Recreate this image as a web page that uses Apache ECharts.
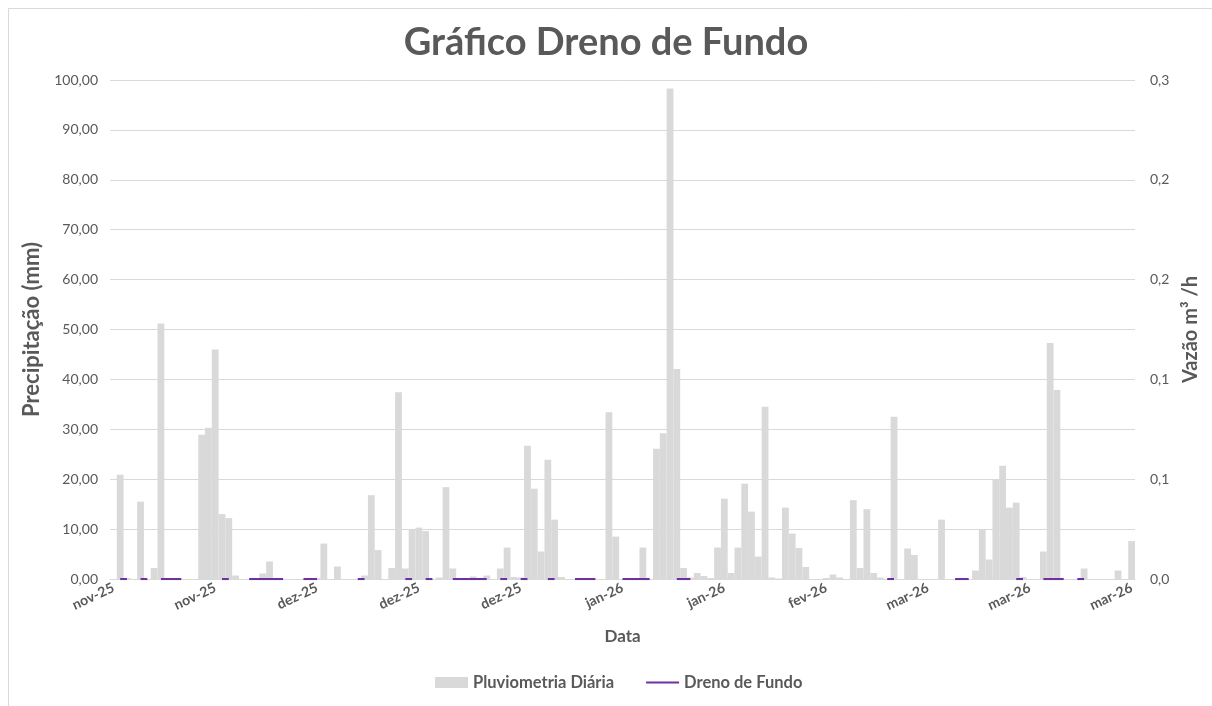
<!DOCTYPE html>
<html>
<head>
<meta charset="utf-8">
<script src="https://cdn.jsdelivr.net/npm/echarts@6/dist/echarts.min.js"></script>
<style>
  html, body { margin: 0; padding: 0; background: #ffffff; }
  #chart { width: 1212px; height: 706px; }
</style>
</head>
<body>
<div id="chart"></div>
<script>
// Daily dates: 1 Nov 2025 .. 31 Mar 2026 (151 days)
const startDate = '2025-11-01';
const dayCount = 151;

// Tick labels shown every 15 days
const tickLabels = ['nov-25','nov-25','dez-25','dez-25','dez-25','jan-26','jan-26','fev-26','mar-26','mar-26','mar-26'];

// Pluviometria Diária (mm)
const rain = [0,
  20.9, 0.2, 0, 15.5, 0, 2.2, 51.2, 0.2, 0, 0, 0, 0,
  28.9, 30.3, 46.0, 13.0, 12.2, 0.7, 0, 0, 0, 1.1, 3.5,
  0, 0, 0, 0, 0, 0,
  0.2, 7.1, 0, 2.5, 0, 0, 0,
  0.7, 16.8, 5.8, 0, 2.2, 37.4, 2.1, 10.0, 10.3, 9.6, 0, 0.3, 18.4, 2.1,
  0, 0, 0.5, 0, 0.7, 0, 2.1, 6.3, 0.4, 0.3, 26.7, 18.1, 5.5, 23.9, 11.9, 0.4,
  0, 0, 0, 0, 0, 0,
  33.4, 8.5, 0, 0, 0.2, 6.3, 0, 26.1, 29.2, 98.3, 42.1, 2.2, 0.3, 1.2, 0.6, 0.2,
  6.3, 16.1, 1.2, 6.3, 19.1, 13.5, 4.5, 34.5, 0.3, 0.1, 14.3, 9.1, 6.2, 2.4,
  0, 0, 0.2, 0.9, 0.3, 0, 15.8, 2.2, 14.0, 1.2, 0.3, 0, 32.5, 0, 6.1, 4.8,
  0, 0, 0, 11.9, 0, 0, 0, 0,
  1.7, 9.9, 3.9, 19.9, 22.7, 14.3, 15.3, 0.4, 0, 0, 5.5, 47.3, 37.9,
  0, 0, 0, 2.1, 0, 0, 0, 0, 1.7, 0, 7.6
];

// Dreno de Fundo (m³/h) — null = no reading
const _ = null;
const dreno = [
  _,0,0,_,0,0,_,0,0,0,
  0,_,_,_,_,_,0,0,_,_,
  0,0,0,0,0,0,_,_,0,0,
  0,_,_,_,_,_,0,0,_,_,
  _,_,_,0,0,_,0,0,_,_,
  0,0,0,0,0,0,_,0,0,_,
  0,0,_,_,0,0,_,_,0,0,
  0,0,_,_,_,0,0,0,0,0,
  _,_,_,0,0,0,_,_,_,_,
  _,_,_,_,_,_,_,_,_,_,
  _,_,_,_,_,_,_,_,_,_,
  _,_,_,_,0,0,_,_,_,_,
  _,_,_,_,0,0,0,_,_,_,
  _,_,_,0,0,_,_,0,0,0,
  0,_,0,0,_,_,_,_,_,_,
  _
];

const categories = [];
(function () {
  const d0 = new Date(startDate + 'T00:00:00Z');
  for (let i = 0; i < dayCount; i++) {
    const d = new Date(d0.getTime() + i * 86400000);
    categories.push(d.toISOString().slice(0, 10));
  }
})();

const txt = '#595959';
const font = 'Lato, "Open Sans", sans-serif';

const chart = echarts.init(document.getElementById('chart'), null, { renderer: 'canvas' });
chart.setOption({
  animation: false,
  backgroundColor: '#ffffff',
  textStyle: { fontFamily: font, color: txt },
  graphic: [{
    type: 'rect', silent: true, z: -10,
    shape: { x: 8.5, y: 8.5, width: 1230, height: 730 },
    style: { fill: 'none', stroke: '#d9d9d9', lineWidth: 1 }
  }],
  title: {
    text: 'Gráfico Dreno de Fundo',
    left: 'center', top: 19,
    textStyle: { fontFamily: font, fontSize: 38, fontWeight: 'bold', color: txt }
  },
  grid: { left: 110, right: 77, top: 80, bottom: 127, containLabel: false },
  legend: {
    bottom: 10, left: 430,
    itemWidth: 33, itemHeight: 11, itemGap: 32,
    textStyle: { fontFamily: font, fontSize: 16.5, fontWeight: 'bold', color: txt },
    data: [
      { name: 'Pluviometria Diária', icon: 'rect' },
      { name: 'Dreno de Fundo', icon: 'path://M0,0 M0,11 M0,4.4 L33,4.4 L33,6.6 L0,6.6 Z' }
    ]
  },
  xAxis: {
    type: 'category',
    data: categories,
    name: 'Data',
    nameLocation: 'middle',
    nameGap: 49,
    nameTextStyle: { fontFamily: font, fontSize: 17, fontWeight: 'bold', color: txt },
    axisLine: { lineStyle: { color: '#d9d9d9', width: 1 } },
    axisTick: { show: false },
    axisLabel: {
      interval: function (i) { return i % 15 === 0; },
      rotate: 25,
      margin: 8,
      fontFamily: font, fontSize: 14, fontWeight: 'bold', color: txt,
      formatter: function (v, i) { return tickLabels[Math.round(i / 15)] || ''; }
    }
  },
  yAxis: [
    {
      type: 'value', min: 0, max: 100, interval: 10,
      name: 'Precipitação (mm)',
      nameLocation: 'middle', nameGap: 58, nameRotate: 90,
      nameTextStyle: { fontFamily: font, fontSize: 22, fontWeight: 'bold', color: txt },
      axisLine: { show: false }, axisTick: { show: false },
      splitLine: { lineStyle: { color: '#d9d9d9', width: 1 } },
      axisLabel: {
        margin: 12, fontFamily: font, fontSize: 14, color: txt,
        formatter: function (v) { return v.toFixed(2).replace('.', ','); }
      }
    },
    {
      type: 'value', min: 0, max: 0.3, interval: 0.06,
      name: 'Vazão m³ /h',
      nameLocation: 'middle', nameGap: 41, nameRotate: 90,
      nameTextStyle: { fontFamily: font, fontSize: 20, fontWeight: 'bold', color: txt },
      axisLine: { show: false }, axisTick: { show: false },
      splitLine: { show: false },
      axisLabel: {
        margin: 15, fontFamily: font, fontSize: 14, color: txt,
        formatter: function (v) { return v.toFixed(1).replace('.', ','); }
      }
    }
  ],
  series: [
    {
      name: 'Pluviometria Diária',
      type: 'bar',
      data: rain,
      yAxisIndex: 0,
      barCategoryGap: '0%',
      itemStyle: { color: '#d9d9d9' }
    },
    {
      name: 'Dreno de Fundo',
      type: 'line',
      data: dreno,
      yAxisIndex: 1,
      symbol: 'none',
      connectNulls: false,
      lineStyle: { color: '#7030a0', width: 2.25 },
      itemStyle: { color: '#7030a0' },
      z: 5
    }
  ]
});
</script>
</body>
</html>
